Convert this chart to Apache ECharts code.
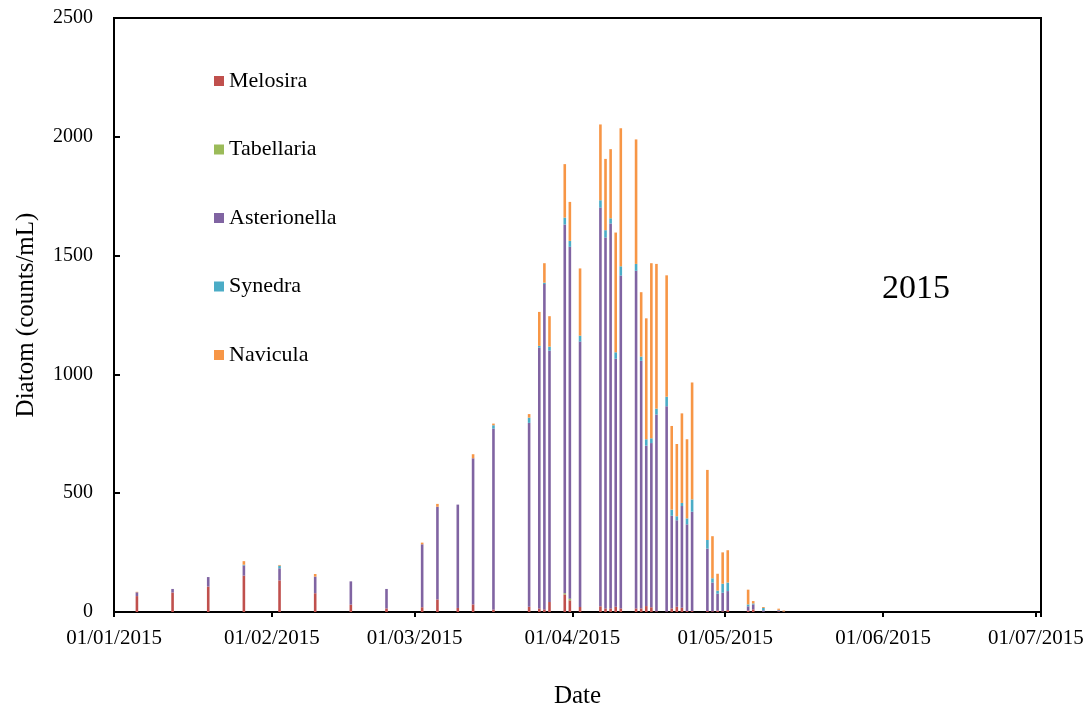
<!DOCTYPE html>
<html>
<head>
<meta charset="utf-8">
<script src="https://cdn.jsdelivr.net/npm/echarts@6/dist/echarts.min.js"></script>
<style>
html,body{margin:0;padding:0;background:#fff;}
#chart{width:1091px;height:709px;}
</style>
</head>
<body>
<div id="chart"></div>
<script>
// Sampling dates
var dates = ['2015-01-05','2015-01-12','2015-01-19','2015-01-26','2015-02-02','2015-02-09','2015-02-16','2015-02-23',
  '2015-03-02','2015-03-05','2015-03-09','2015-03-12','2015-03-16','2015-03-23','2015-03-25','2015-03-26','2015-03-27',
  '2015-03-30','2015-03-31','2015-04-02','2015-04-06','2015-04-07','2015-04-08','2015-04-09','2015-04-10',
  '2015-04-13','2015-04-14','2015-04-15','2015-04-16','2015-04-17','2015-04-19','2015-04-20','2015-04-21',
  '2015-04-22','2015-04-23','2015-04-24','2015-04-27','2015-04-28','2015-04-29','2015-04-30','2015-05-01',
  '2015-05-05','2015-05-06','2015-05-08','2015-05-11','2015-05-12'];

var melosira = [67,82,107,153,133,79,31,15,20,53,17,32,10,22,15,11,42,74,49,21,24,15,15,22,15,15,15,25,20,3,2,15,22,18,4,4,4,3,6,3,8,6,11,1,3,1];
var tabellaria = [0,0,0,0,0,0,0,0,0,0,0,0,0,0,0,0,0,5,7,0,0,0,0,0,0,0,0,0,0,0,0,0,0,0,0,0,0,0,0,0,0,0,0,0,0,0];
var asterionella = [16,15,40,43,51,70,98,82,265,390,435,615,762,774,1098,1369,1058,1552,1481,1117,1678,1561,1620,1044,1401,1421,1042,675,691,828,864,390,364,428,365,418,263,121,71,78,80,18,21,6,4,1];
var synedra = [0,0,0,3,11,0,0,0,0,0,0,0,14,22,7,6,17,29,25,25,31,31,22,27,39,29,18,27,20,25,40,26,17,13,25,52,36,18,13,38,36,8,4,10,2,0];
var navicula = [2,0,0,15,3,11,0,0,7,12,0,17,7,15,143,82,128,225,164,283,319,300,291,504,581,524,271,509,737,609,511,352,304,377,333,492,295,177,71,132,136,62,10,4,5,4];

var seriesNames = ['Melosira','Tabellaria','Asterionella','Synedra','Navicula'];
var seriesColors = ['#C0504D','#9BBB59','#8064A2','#4BACC6','#F79646'];
var axisStart = '2015-01-01', axisLast = '2015-07-01';   // Excel date axis, one slot per day
var yTicks = [0,500,1000,1500,2000,2500];

var FONT = '"Liberation Serif","Times New Roman",serif';
var DAY = 86400000;
function ts(s){ var p = s.split('-'); return Date.UTC(+p[0], +p[1]-1, +p[2]); }
function pad(n){ return (n<10?'0':'') + n; }
function iso(t){ var d = new Date(t); return d.getUTCFullYear() + '-' + pad(d.getUTCMonth()+1) + '-' + pad(d.getUTCDate()); }

// day slots of the date axis
var daySlots = [];
for (var t = ts(axisStart); t <= ts(axisLast); t += DAY) daySlots.push(iso(t));
function isMonthStart(i, v){ return v.slice(8) === '01'; }
function dmy(v){ var p = v.split('-'); return p[2] + '/' + p[1] + '/' + p[0]; }

var allVals = [melosira, tabellaria, asterionella, synedra, navicula];
var series = seriesNames.map(function(name, k){
  return {
    name: name, type: 'bar', stack: 'total', barWidth: 2.6,
    itemStyle: { color: seriesColors[k] },
    data: dates.map(function(d, i){ return [d, allVals[k][i]]; }),
    animation: false
  };
});

var chart = echarts.init(document.getElementById('chart'), null, {renderer: 'canvas'});
chart.setOption({
  animation: false,
  backgroundColor: '#fff',
  grid: { left: 114, top: 18, width: 927, height: 594, show: true, borderColor: '#000', borderWidth: 2,
          containLabel: false, outerBoundsMode: 'none' },
  legend: {
    orient: 'vertical', left: 209, top: 65,
    data: seriesNames, icon: 'rect', itemWidth: 10, itemHeight: 10, itemGap: 46.5,
    textStyle: { fontFamily: FONT, fontSize: 22, color: '#000', padding: [0,0,0,0] }
  },
  xAxis: {
    type: 'category', data: daySlots, boundaryGap: true,
    name: 'Date', nameLocation: 'middle', nameGap: 72,
    nameTextStyle: { fontFamily: FONT, fontSize: 25, color: '#000' },
    axisLine: { lineStyle: { color: '#000', width: 2 } },
    axisTick: { show: true, inside: false, length: 5, alignWithLabel: false, interval: isMonthStart,
                lineStyle: { color: '#000', width: 2 } },
    axisLabel: {
      interval: isMonthStart, margin: 16, fontFamily: FONT, fontSize: 21, color: '#000',
      padding: [0, 5, 0, 0], formatter: dmy
    },
    splitLine: { show: false }
  },
  yAxis: {
    type: 'value', min: yTicks[0], max: yTicks[yTicks.length-1], interval: 500,
    name: 'Diatom (counts/mL)', nameLocation: 'middle', nameGap: 75, nameRotate: 90,
    nameTextStyle: { fontFamily: FONT, fontSize: 25, color: '#000' },
    axisLine: { show: true, lineStyle: { color: '#000', width: 2 } },
    axisTick: { show: true, inside: true, length: 6, lineStyle: { color: '#000', width: 2 } },
    axisLabel: { margin: 21, fontFamily: FONT, fontSize: 20, color: '#000', formatter: function(v){ return String(v); } },
    splitLine: { show: false }
  },
  graphic: [{
    type: 'text', left: 882, top: 272,
    style: { text: '2015', font: '34px ' + FONT, fill: '#000' }
  }],
  series: series
});
</script>
</body>
</html>
